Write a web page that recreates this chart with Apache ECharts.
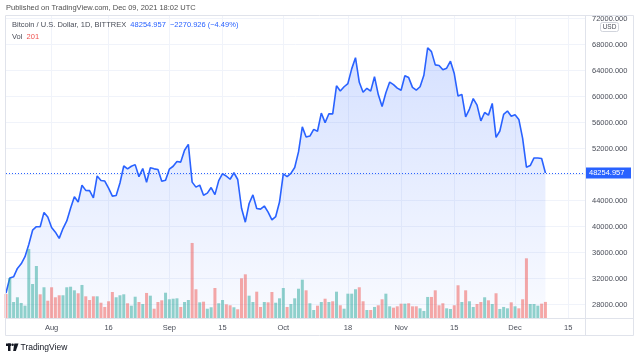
<!DOCTYPE html>
<html><head><meta charset="utf-8">
<script src="https://cdn.jsdelivr.net/npm/echarts@6/dist/echarts.min.js"></script>
<style>html,body{margin:0;padding:0;background:#fff}#c{width:640px;height:358px}</style>
</head><body><div id="c"></div>
<script>
// ---------- data ----------
const startDate = '2021-07-20';
const closes = [
  29790,32110,32290,33580,34290,35380,37270,39460,40000,39990,42200,41490,
  39880,39160,38200,39720,40880,42830,44600,43800,46370,45590,45550,44430,47810,47100,47020,45940,44700,44800,46720,49340,48900,49300,49550,47700,48950,46850,49070,48900,48810,46990,47150,
  48850,49300,50030,49940,51770,52660,46860,46090,46400,44850,45160,46020,44940,47090,48150,47770,47300,48300,47260,42840,40690,43570,44900,42810,42700,43180,42230,41040,41560,43790,
  48120,47690,48200,49110,51510,55360,53810,53950,54970,54680,57480,56010,57370,57360,61670,60880,61530,62020,64280,66000,62210,60690,61290,60860,63080,60330,58480,60620,62250,61860,61320,
  61000,63230,62940,61440,61010,61530,63300,67530,66930,64900,64810,64150,64380,65470,63560,60100,60360,56900,58100,59700,58700,56280,57570,57160,58960,53730,54720,57270,57800,56990,
  57220,56500,53600,49150,49400,50580,50560,50500,48254.957
];
const volumes = [
  300,500,200,259,188,154,863,425,650,296,384,216,
  384,259,284,284,384,391,346,309,413,271,225,271,271,191,138,209,325,259,284,296,184,154,266,200,175,313,279,116,200,221,316,
  234,241,246,138,200,225,938,359,196,204,116,134,375,184,225,171,159,134,109,496,546,279,200,329,138,200,196,325,191,246,
  375,138,175,246,366,479,346,184,100,154,200,241,200,209,329,159,116,304,304,359,384,209,100,100,138,159,234,304,146,129,146,
  179,179,184,146,146,121,88,263,263,346,159,184,121,113,159,409,200,346,209,138,175,200,259,221,175,309,113,138,121,196,
  146,121,234,746,175,175,154,179,201
];
// volume bar direction: u = up day, d = down day
const volDirs = 'duuuuuuuudud' +
  'ddduuuudu' + 'dddu' + 'dddd' + 'uuu' + 'duud' + 'udu' + 'dddu' +
  'uuuduuddu' + 'duudu' + 'uddud' + 'dduudd' + 'uddu' + 'u' +
  'uduuuuduud' + 'ududud' + 'uuuu' + 'ddud' + 'uddu' + 'udd' +
  'dudddu' + 'uud' + 'ddd' + 'uudd' + 'uduu' + 'ddud' + 'udu' + 'uud' +
  'uddduuudd';
const tickDates = ['2021-08-01','2021-08-16','2021-09-01','2021-09-15','2021-10-01','2021-10-18','2021-11-01','2021-11-15','2021-12-01','2021-12-15'];
const tickLabels = ['Aug','16','Sep','15','Oct','18','Nov','15','Dec','15'];
const priceTicks = [28000,32000,36000,40000,44000,48000,52000,56000,60000,64000,68000,72000];
const lastPrice = 48254.957;
const lastChange = '\u22122270.926 (\u22124.49%)';
const lastVol = 201;
const rangeEndDate = '2021-12-19T10:00:00Z';
const priceMin = 25954, priceMax = 72415;

// ---------- chart ----------
const FONT = '"Liberation Sans", Arial, sans-serif';
const TXT = '#4a4e59';
const BLUE = '#2962ff';
const GREEN = 'rgba(38,166,154,0.5)';
const RED = 'rgba(239,83,80,0.5)';
const DAY = 86400000;
const t0 = Date.parse(startDate + 'T00:00:00Z');
const dayOf = s => (Date.parse(s.length > 10 ? s : s + 'T00:00:00Z') - t0) / DAY;
const xMax = dayOf(rangeEndDate);
const priceData = closes.map((c, i) => [i, c]);
const volData = volumes.map((v, i) => ({
  value: [i, v],
  itemStyle: { color: volDirs[i] === 'u' ? GREEN : RED }
}));
const tickDays = tickDates.map(dayOf);
function dateLabel(v) {
  for (let i = 0; i < tickDays.length; i++) if (Math.abs(tickDays[i] - v) < 0.5) return tickLabels[i];
  return '';
}

const chart = echarts.init(document.getElementById('c'), null, { renderer: 'canvas' });
const option = {
  animation: false,
  backgroundColor: '#ffffff',
  textStyle: { fontFamily: FONT },
  grid: [
    { left: 6, right: 55, top: 16, bottom: 40 },
    { left: 6, right: 55, top: 218, bottom: 40 }
  ],
  xAxis: [
    {
      type: 'value', gridIndex: 0, min: 0, max: xMax,
      axisLine: { show: false },
      axisTick: { show: false, customValues: tickDays },
      axisLabel: { customValues: tickDays, formatter: dateLabel, color: TXT, fontSize: 7.5, margin: 6, fontFamily: FONT },
      splitLine: { show: true, lineStyle: { color: '#f0f3fa', width: 1 } }
    },
    {
      type: 'value', gridIndex: 1, min: 0, max: xMax, show: false,
      splitLine: { show: false }
    }
  ],
  yAxis: [
    {
      type: 'value', gridIndex: 0, position: 'right', min: priceMin, max: priceMax,
      axisLine: { show: false },
      axisTick: { show: false, customValues: priceTicks },
      axisLabel: { customValues: priceTicks, formatter: v => v.toFixed(3), color: TXT, fontSize: 7.5, margin: 7, fontFamily: FONT },
      splitLine: { show: true, lineStyle: { color: '#f0f3fa', width: 1 } }
    },
    {
      type: 'value', gridIndex: 1, min: 0, max: 1250, show: false,
      splitLine: { show: false }
    }
  ],
  series: [
    {
      type: 'line', xAxisIndex: 0, yAxisIndex: 0, data: priceData,
      showSymbol: false, symbol: 'none', z: 2,
      lineStyle: { color: BLUE, width: 1.6 },
      areaStyle: {
        color: { type: 'linear', x: 0, y: 0, x2: 0, y2: 1, colorStops: [
          { offset: 0, color: 'rgba(41,98,255,0.28)' },
          { offset: 1, color: 'rgba(41,98,255,0.04)' }
        ] }
      },
      markLine: {
        silent: true, symbol: ['none', 'none'],
        lineStyle: { type: [1, 2], color: BLUE, width: 1 },
        label: { show: false },
        data: [{ yAxis: lastPrice }]
      }
    },
    {
      type: 'bar', xAxisIndex: 1, yAxisIndex: 1, data: volData,
      barWidth: 3, z: 3
    }
  ]
};
chart.setOption(option);

const py = chart.convertToPixel({ xAxisIndex: 0, yAxisIndex: 0 }, [0, lastPrice])[1];
const L = 5.5, T = 15.5, R = 633.5, B = 335.5, AX = 585.5, DX = 318.5;
chart.setOption({
  graphic: [
    { type: 'rect', z: 100, shape: { x: AX + 0.5, y: 0, width: 60, height: 15 }, style: { fill: '#fff' } },
    { type: 'rect', z: 101, shape: { x: L, y: T, width: R - L, height: B - T }, style: { fill: 'none', stroke: '#e0e3eb', lineWidth: 1 } },
    { type: 'line', z: 101, shape: { x1: AX, y1: T, x2: AX, y2: B }, style: { stroke: '#e0e3eb', lineWidth: 1 } },
    { type: 'line', z: 101, shape: { x1: L, y1: DX, x2: R, y2: DX }, style: { stroke: '#e0e3eb', lineWidth: 1 } },
    { type: 'rect', z: 102, shape: { x: 600.5, y: 22.5, width: 18, height: 9, r: 2 }, style: { fill: '#fff', stroke: '#d1d4dc', lineWidth: 1 } },
    { type: 'text', z: 103, x: 609.5, y: 27.2, style: { text: 'USD', fill: TXT, font: '6.5px ' + FONT, align: 'center', verticalAlign: 'middle' } },
    { type: 'rect', z: 102, shape: { x: 586, y: py - 5.5, width: 45, height: 11 }, style: { fill: BLUE } },
    { type: 'text', z: 103, x: 589, y: py + 0.3, style: { text: lastPrice.toFixed(3), fill: '#fff', font: '7.5px ' + FONT, align: 'left', verticalAlign: 'middle' } },
    { type: 'text', z: 103, x: 6, y: 8, style: { text: 'Published on TradingView.com, Dec 09, 2021 18:02 UTC', fill: '#505050', font: '7.5px ' + FONT, align: 'left', verticalAlign: 'middle' } },
    { type: 'text', z: 103, x: 12, y: 25.3, style: {
      text: '{a|Bitcoin / U.S. Dollar, 1D, BITTREX}  {b|' + lastPrice.toFixed(3) + '}  {b|' + lastChange + '}',
      align: 'left', verticalAlign: 'middle', font: '7.5px ' + FONT,
      rich: { a: { fill: TXT, font: '7.5px ' + FONT }, b: { fill: BLUE, font: '7.5px ' + FONT } }
    } },
    { type: 'text', z: 103, x: 12, y: 36.7, style: {
      text: '{a|Vol}  {r|' + lastVol + '}',
      align: 'left', verticalAlign: 'middle', font: '7.5px ' + FONT,
      rich: { a: { fill: TXT, font: '7.5px ' + FONT }, r: { fill: '#ef5350', font: '7.5px ' + FONT } }
    } },
    { type: 'rect', z: 103, shape: { x: 6, y: 343.5, width: 5, height: 2.5 }, style: { fill: '#131722' } },
    { type: 'rect', z: 103, shape: { x: 8, y: 343.5, width: 2.5, height: 7.5 }, style: { fill: '#131722' } },
    { type: 'circle', z: 103, shape: { cx: 12.6, cy: 344.8, r: 1.3 }, style: { fill: '#131722' } },
    { type: 'polygon', z: 103, shape: { points: [[14.3, 343.5], [18.5, 343.5], [15.8, 351], [13.2, 351]] }, style: { fill: '#131722' } },
    { type: 'text', z: 103, x: 20.5, y: 347.5, style: { text: 'TradingView', fill: '#131722', font: '8.5px ' + FONT, align: 'left', verticalAlign: 'middle' } }
  ]
});
</script>
</body></html>
